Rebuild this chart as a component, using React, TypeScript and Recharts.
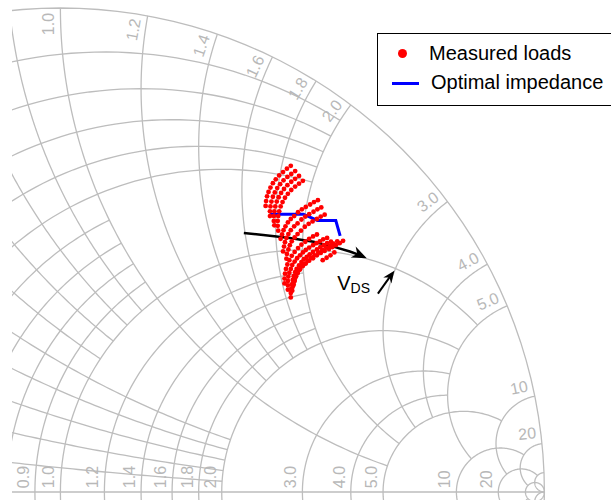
import { ComposedChart, Line, Scatter, XAxis, YAxis, Legend } from 'recharts';

// Smith chart grid: each value is drawn as a resistance circle and a reactance arc,
// each ending at the matching limit (reactance for r circles, resistance for x arcs)
const GRID_VALUES = [0.1, 0.2, 0.3, 0.4, 0.5, 0.6, 0.7, 0.8, 0.9, 1, 1.2, 1.4, 1.6, 1.8, 2, 3, 4, 5, 10, 20, 50];
const GRID_LIMITS = [2, 2, 2, 2, 2, 1, 1, 1, 1, 5, 2, 2, 2, 2, 5, 5, 5, 10, 20, 50, Infinity];

const R_TICKS = [0.9, 1, 1.2, 1.4, 1.6, 1.8, 2, 3, 4, 5, 10, 20];
const X_TICKS = [1, 1.2, 1.4, 1.6, 1.8, 2, 3, 4, 5, 10, 20];

// measured load reflection coefficients [re, im], one array per sweep
const loadArc1 = [[0.476, 0.674], [0.468, 0.668], [0.46, 0.661], [0.452, 0.654], [0.445, 0.646], [0.439, 0.638], [0.434, 0.629], [0.43, 0.62], [0.427, 0.611], [0.425, 0.601], [0.424, 0.591]];
const loadArc2 = [[0.485, 0.663], [0.477, 0.657], [0.469, 0.651], [0.461, 0.644], [0.454, 0.636], [0.448, 0.628], [0.443, 0.619], [0.439, 0.61], [0.436, 0.6], [0.434, 0.59], [0.433, 0.58], [0.433, 0.57]];
const loadArc3 = [[0.493, 0.653], [0.485, 0.647], [0.477, 0.641], [0.469, 0.634], [0.462, 0.626], [0.456, 0.618], [0.451, 0.609], [0.447, 0.6], [0.444, 0.59], [0.442, 0.58], [0.441, 0.57], [0.441, 0.56], [0.442, 0.551]];
const loadArc4 = [[0.501, 0.643], [0.493, 0.637], [0.485, 0.631], [0.477, 0.624], [0.47, 0.616], [0.464, 0.608], [0.459, 0.599], [0.455, 0.59], [0.452, 0.58], [0.45, 0.57], [0.449, 0.56], [0.449, 0.55], [0.45, 0.54]];
const loadArc5 = [[0.532, 0.603], [0.524, 0.599], [0.516, 0.594], [0.507, 0.589], [0.499, 0.584], [0.491, 0.578], [0.483, 0.57], [0.476, 0.564], [0.47, 0.557], [0.465, 0.549], [0.461, 0.541], [0.458, 0.532], [0.455, 0.523]];
const loadArc6 = [[0.539, 0.588], [0.531, 0.584], [0.523, 0.579], [0.514, 0.574], [0.506, 0.569], [0.498, 0.563], [0.49, 0.555], [0.483, 0.549], [0.476, 0.541], [0.471, 0.533], [0.467, 0.525], [0.464, 0.516], [0.462, 0.507], [0.46, 0.497]];
const loadArc7 = [[0.546, 0.573], [0.538, 0.569], [0.53, 0.564], [0.521, 0.559], [0.513, 0.554], [0.505, 0.548], [0.497, 0.54], [0.49, 0.533], [0.484, 0.526], [0.478, 0.518], [0.474, 0.51], [0.471, 0.501], [0.468, 0.492], [0.467, 0.482]];
const loadArc8 = [[0.551, 0.525], [0.543, 0.522], [0.536, 0.518], [0.529, 0.514], [0.522, 0.51], [0.514, 0.505], [0.507, 0.5], [0.501, 0.495], [0.495, 0.489], [0.489, 0.483], [0.484, 0.476], [0.479, 0.469], [0.476, 0.461], [0.473, 0.453], [0.471, 0.445], [0.47, 0.436], [0.47, 0.427], [0.47, 0.418]];
const loadArc9 = [[0.559, 0.517], [0.551, 0.514], [0.544, 0.51], [0.537, 0.506], [0.53, 0.501], [0.522, 0.496], [0.515, 0.491], [0.509, 0.486], [0.503, 0.481], [0.498, 0.475], [0.493, 0.468], [0.488, 0.461], [0.485, 0.454], [0.482, 0.446], [0.48, 0.438], [0.478, 0.429], [0.477, 0.42], [0.476, 0.411], [0.476, 0.402]];
const loadArc10 = [[0.572, 0.518], [0.564, 0.513], [0.557, 0.509], [0.549, 0.505], [0.541, 0.5], [0.533, 0.495], [0.525, 0.489], [0.518, 0.484], [0.511, 0.478], [0.505, 0.472], [0.499, 0.466], [0.494, 0.459], [0.49, 0.452], [0.486, 0.444], [0.484, 0.436], [0.482, 0.428]];
const loadArc11 = [[0.584, 0.519], [0.577, 0.514], [0.569, 0.51], [0.562, 0.506], [0.555, 0.502], [0.546, 0.498], [0.538, 0.494], [0.53, 0.489], [0.522, 0.483], [0.514, 0.478], [0.507, 0.472], [0.501, 0.467], [0.495, 0.46], [0.49, 0.453], [0.487, 0.446], [0.484, 0.439], [0.481, 0.431], [0.48, 0.424], [0.479, 0.416]];
const loadArc12 = [[0.566, 0.495], [0.558, 0.489], [0.55, 0.484], [0.542, 0.479]];
const loadArc13 = [[0.53, 0.532], [0.522, 0.528], [0.514, 0.523], [0.506, 0.517], [0.498, 0.511], [0.491, 0.504], [0.484, 0.496], [0.478, 0.488], [0.473, 0.479], [0.469, 0.47], [0.466, 0.461], [0.464, 0.451], [0.463, 0.441], [0.463, 0.431]];

const optimalImpedance = [[0.433, 0.574], [0.502, 0.574], [0.531, 0.561], [0.569, 0.561], [0.578, 0.529]];

// V_DS sweep arrow and the pointer to the label
const vdsCurve = [[0.379, 0.535], [0.419, 0.531], [0.474, 0.525], [0.523, 0.517], [0.564, 0.507], [0.598, 0.497], [0.62, 0.489]];
const vdsTip = [0.633, 0.483];
const pointerLine = [[0.656, 0.41], [0.684, 0.449]];
const pointerTip = [0.69, 0.457];
const vdsLabelAt = [0.572, 0.417];

const GRID = '#bdbdbd';
const LABEL = '#b8b8b8';
const W = 611;
const H = 500;
const LEFT = 12;
const PX = 484; // pixels per unit of reflection coefficient
const X_DOMAIN = [-0.1, -0.1 + (W - LEFT) / PX];
const Y_DOMAIN = [-8 / PX, 492 / PX];

type Pt = { x: number; y: number };

function gamma(r: number, x: number): Pt {
  if (!isFinite(r) || !isFinite(x)) return { x: 1, y: 0 };
  const d = (r + 1) ** 2 + x * x;
  return { x: (r * r + x * x - 1) / d, y: (2 * x) / d };
}

function rCircle(r: number, xlim: number): Pt[] {
  const c = r / (1 + r);
  const rho = 1 / (1 + r);
  const p = gamma(r, xlim);
  const t0 = isFinite(xlim) ? Math.atan2(p.y, p.x - c) : 0;
  const pts: Pt[] = [];
  const n = 160;
  for (let i = 0; i <= n; i++) {
    const t = t0 + ((2 * Math.PI - 2 * t0) * i) / n;
    pts.push({ x: c + rho * Math.cos(t), y: rho * Math.sin(t) });
  }
  return pts;
}

function xArc(x: number, rlim: number, sign: number): Pt[] {
  const cy = 1 / x;
  const ang = (p: Pt) => {
    let a = Math.atan2(p.y - cy, p.x - 1);
    if (a < 0) a += 2 * Math.PI;
    return a;
  };
  const a0 = ang(gamma(0, x));
  const a1 = isFinite(rlim) ? ang(gamma(rlim, x)) : 1.5 * Math.PI;
  const pts: Pt[] = [];
  const n = 120;
  for (let i = 0; i <= n; i++) {
    const a = a0 + ((a1 - a0) * i) / n;
    pts.push({ x: 1 + cy * Math.cos(a), y: sign * (cy + cy * Math.sin(a)) });
  }
  return pts;
}

const gridCurves: Pt[][] = [rCircle(0, Infinity), [{ x: -1, y: 0 }, { x: 1, y: 0 }]];
GRID_VALUES.forEach((v, i) => {
  gridCurves.push(rCircle(v, GRID_LIMITS[i]));
  gridCurves.push(xArc(v, GRID_LIMITS[i], 1));
  gridCurves.push(xArc(v, GRID_LIMITS[i], -1));
});

const fmt = (v: number) => (v < 10 ? v.toFixed(1) : String(v));
const OFF = 6 / PX;

const tickLabels = [
  ...R_TICKS.map((r) => ({ x: (r - 1) / (r + 1) - OFF, y: 0.008, label: fmt(r), rot: -90, anchor: 'start' })),
  ...X_TICKS.map((v) => {
    const p = gamma(0, v);
    const a = Math.atan2(p.y, p.x);
    const R = 0.99;
    const d = OFF / R;
    return { x: R * Math.cos(a + d), y: R * Math.sin(a + d), label: fmt(v), rot: (-a * 180) / Math.PI, anchor: 'end' };
  }),
];

const toPts = (arr: number[][]) => arr.map(([x, y]) => ({ x, y }));
const loads = toPts(
  [loadArc1, loadArc2, loadArc3, loadArc4, loadArc5, loadArc6, loadArc7, loadArc8, loadArc9, loadArc10, loadArc11, loadArc12, loadArc13].flat()
);

const lastOf = (arr: number[][]) => arr[arr.length - 1];
const heads = [
  { x: vdsTip[0], y: vdsTip[1], dx: vdsTip[0] - lastOf(vdsCurve)[0], dy: vdsTip[1] - lastOf(vdsCurve)[1], len: 15, half: 6 },
  { x: pointerTip[0], y: pointerTip[1], dx: pointerTip[0] - pointerLine[0][0], dy: pointerTip[1] - pointerLine[0][1], len: 12, half: 5 },
];

const TickShape = (p: any) => (
  <text
    x={p.cx}
    y={p.cy}
    transform={`rotate(${p.payload.rot} ${p.cx} ${p.cy})`}
    textAnchor={p.payload.anchor}
    fill={LABEL}
    fontSize={16}
    fontFamily="Liberation Sans, Arial, sans-serif"
  >
    {p.payload.label}
  </text>
);

const HeadShape = (p: any) => {
  const deg = (Math.atan2(-p.payload.dy, p.payload.dx) * 180) / Math.PI;
  const { len, half } = p.payload;
  return (
    <polygon
      points={`0,0 ${-len},${-half} ${-len * 0.7},0 ${-len},${half}`}
      transform={`translate(${p.cx} ${p.cy}) rotate(${deg})`}
      fill="#000"
    />
  );
};

const VdsShape = (p: any) => (
  <text x={p.cx} y={p.cy} fill="#000" fontFamily="Liberation Sans, Arial, sans-serif" fontSize={20}>
    V<tspan fontSize={14} dy={3}>DS</tspan>
  </text>
);

const DotShape = (p: any) => <circle cx={p.cx} cy={p.cy} r={2.4} fill="#ff0000" />;

function LegendBox() {
  const font = 'Liberation Sans, Arial, Helvetica, sans-serif';
  return (
    <div
      style={{
        position: 'relative',
        width: 250,
        height: 71,
        border: '1.3px solid #000',
        background: '#fff',
        fontFamily: font,
        fontSize: 20,
        lineHeight: '20px',
        color: '#000',
      }}
    >
      <span style={{ position: 'absolute', left: 20, top: 15, width: 9, height: 9, borderRadius: '50%', background: '#ff0000' }} />
      <span style={{ position: 'absolute', left: 51, top: 9, whiteSpace: 'nowrap' }}>Measured loads</span>
      <span style={{ position: 'absolute', left: 14, top: 48, width: 27, height: 3.3, background: '#0000ff' }} />
      <span style={{ position: 'absolute', left: 53, top: 38, whiteSpace: 'nowrap' }}>Optimal impedance</span>
    </div>
  );
}

export default function App() {
  return (
    <div style={{ position: 'absolute', left: 0, top: 0, width: W, height: H, overflow: 'hidden', background: '#fff' }}>
      <ComposedChart width={W} height={H} margin={{ top: 0, right: 0, bottom: 0, left: LEFT }}>
        <XAxis type="number" dataKey="x" domain={X_DOMAIN} hide allowDataOverflow />
        <YAxis type="number" dataKey="y" domain={Y_DOMAIN} hide allowDataOverflow />
        {gridCurves.map((d, i) => (
          <Line
            key={`g${i}`}
            data={d}
            dataKey="y"
            stroke={GRID}
            strokeWidth={1.3}
            dot={false}
            activeDot={false}
            isAnimationActive={false}
            legendType="none"
          />
        ))}
        <Scatter data={tickLabels} shape={TickShape} isAnimationActive={false} legendType="none" />
        <Scatter data={loads} shape={DotShape} isAnimationActive={false} name="Measured loads" />
        <Line
          data={toPts(optimalImpedance)}
          dataKey="y"
          stroke="#0000ff"
          strokeWidth={3}
          dot={false}
          activeDot={false}
          isAnimationActive={false}
          name="Optimal impedance"
        />
        <Line data={toPts(vdsCurve)} dataKey="y" stroke="#000" strokeWidth={2.5} dot={false} activeDot={false} isAnimationActive={false} legendType="none" />
        <Line data={toPts(pointerLine)} dataKey="y" stroke="#000" strokeWidth={2} dot={false} activeDot={false} isAnimationActive={false} legendType="none" />
        <Scatter data={heads} shape={HeadShape} isAnimationActive={false} legendType="none" />
        <Scatter data={[{ x: vdsLabelAt[0], y: vdsLabelAt[1] }]} shape={VdsShape} isAnimationActive={false} legendType="none" />
        <Legend
          layout="vertical"
          align="center"
          verticalAlign="middle"
          wrapperStyle={{ position: 'absolute', left: 377, top: 33, width: 252 }}
          content={() => <LegendBox />}
        />
      </ComposedChart>
    </div>
  );
}
